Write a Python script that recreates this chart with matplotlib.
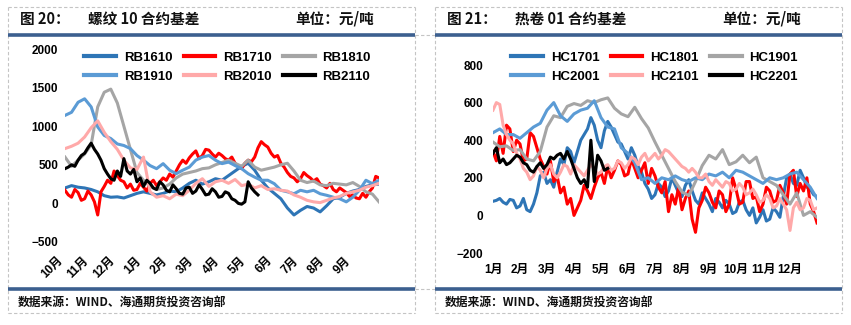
import numpy as np
import matplotlib
matplotlib.use("Agg")
import matplotlib.pyplot as plt
from matplotlib.lines import Line2D

# ---------------- data (basis, 元/吨) ----------------
rb_months = ["10月", "11月", "12月", "1月", "2月", "3月", "4月", "5月", "6月", "7月", "8月", "9月"]
hc_months = ["1月", "2月", "3月", "4月", "5月", "6月", "7月", "8月", "9月", "10月", "11月", "12月"]

# quarter-month samples
rb1610 = [200, 230, 210, 200, 180, 150, 100, 80, 85, 70, 100, 130, 150, 130, 110, 130,
          160, 150, 200, 260, 300, 250, 280, 320, 300, 360, 420, 480, 520, 430, 300, 200,
          130, 60, -60, -150, -90, -40, -60, -110, -30, 60, 80, 130, 160, 180, 220, 240, 250]
rb1810 = [600, 480, 560, 640, 760, 1250, 1440, 1480, 1300, 1000, 700, 400, 300, 220, 180, 200,
          250, 330, 380, 400, 420, 450, 460, 500, 530, 560, 520, 480, 560, 470, 430, 450,
          470, 500, 520, 420, 300, 270, 290, 240, 230, 260, 250, 240, 270, 220, 150, 120, 20]
rb1910 = [1140, 1180, 1310, 1355, 1250, 990, 880, 840, 770, 750, 710, 620, 560, 490, 450, 515,
          430, 385, 430, 470, 560, 600, 620, 560, 515, 535, 490, 450, 385, 340, 300, 300,
          255, 170, 150, 125, 170, 150, 170, 125, 105, 80, 60, 20, 80, 170, 300, 255, 300]
rb2010 = [710, 740, 780, 860, 980, 1070, 920, 800, 700, 560, 460, 440, 600, 150, 80, 100,
          60, 120, 100, 170, 260, 320, 220, 280, 300, 260, 310, 230, 250, 200, 230, 180,
          190, 170, 160, 110, 80, 40, 20, 10, 40, 70, 90, 130, 150, 170, 210, 230, 260]
# eighth-month samples
rb1710 = [170, 110, 80, 180, 140, 40, 60, 160, 110, 20, -150, 150, 220, 300, 260, 420,
          360, 300, 280, 200, 250, 170, 180, 260, 210, 160, 260, 300, 230, 280, 330, 300,
          380, 340, 420, 500, 560, 520, 590, 640, 680, 580, 620, 700, 690, 640, 600, 650,
          620, 580, 560, 600, 520, 480, 450, 520, 560, 540, 600, 720, 800, 760, 730, 650,
          600, 620, 520, 470, 400, 350, 330, 280, 320, 400, 360, 330, 290, 320, 250, 230,
          200, 260, 180, 150, 200, 170, 140, 90, 110, 70, 60, 130, 80, 150, 200, 350, 330]
rb2110 = [450, 470, 500, 480, 560, 620, 650, 720, 780, 700, 640, 560, 450, 380, 320, 300,
          420, 350, 580, 420, 380, 440, 280, 330, 220, 300, 260, 200, 180, 280, 240, 170,
          150, 240, 190, 130, 120, 200, 210, 130, 160, 240, 180, 110, 120, 190, 150, 80,
          90, 150, 130, 60, 40, 0, -10, 20, 280, 200, 150, 110]

hc1901 = [390, 365, 370, 345, 350, 300, 290, 340, 470, 530, 520, 580, 595, 585, 610, 600,
          615, 625, 570, 540, 525, 575, 515, 465, 390, 320, 250, 180, 125, 105, 180, 265,
          320, 300, 350, 270, 285, 320, 280, 310, 200, 180, 160, 110, 60, 120, 0, 20, -10]
hc2001 = [440, 460, 430, 430, 410, 440, 470, 490, 560, 600, 530, 500, 540, 560, 570, 610,
          520, 470, 460, 360, 330, 280, 190, 200, 170, 200, 190, 210, 190, 180, 200, 190,
          220, 210, 230, 200, 240, 230, 210, 190, 170, 200, 190, 200, 220, 230, 190, 150, 90]
hc1701 = [75, 80, 90, 70, 60, 85, 80, 40, 50, 90, 30, 20, 60, 120, 210, 230,
          170, 190, 150, 230, 300, 270, 360, 340, 280, 340, 400, 430, 460, 520, 480, 400,
          360, 450, 500, 470, 430, 390, 380, 340, 300, 360, 320, 260, 230, 170, 140, 90,
          110, 170, 150, 100, 130, 200, 160, 120, 100, 160, 190, 130, 80, 60, 120, 90,
          60, 20, 90, 70, 40, 80, 60, 10, 20, 70, 80, 30, 0, 40, -40, -10,
          30, -30, -20, 40, 20, -10, 100, 200, 220, 170, 160, 240, 200, 150, 140, 110, 100]
hc1801 = [340, 290, 420, 330, 480, 460, 340, 400, 380, 290, 300, 440, 420, 360, 300, 260,
          220, 290, 180, 210, 120, 150, 60, 90, 0, 40, 80, 160, 130, 90, 150, 200,
          230, 170, 260, 200, 240, 290, 270, 210, 220, 300, 250, 200, 240, 280, 170, 250,
          210, 150, 120, 180, 20, 110, 60, 150, 30, 90, 130, -20, -90, 40, 80, 150,
          120, 70, 40, 130, 110, 20, 60, 200, 140, 60, 70, 180, 180, 90, 100, 20,
          60, 150, 130, 70, 80, 160, 120, 60, 220, 240, 100, 170, 130, 200, 60, 20, -40]
hc2101 = [560, 600, 590, 480, 430, 400, 380, 330, 300, 250, 230, 190, 210, 260, 240, 200,
          250, 270, 220, 200, 230, 270, 260, 220, 270, 250, 230, 210, 240, 270, 250, 220,
          230, 260, 270, 240, 250, 290, 280, 250, 270, 310, 300, 270, 310, 330, 290, 310,
          330, 300, 320, 350, 340, 320, 300, 280, 260, 250, 230, 250, 230, 200, 200, 220,
          180, 160, 190, 170, 150, 180, 170, 130, 140, 170, 150, 110, 120, 140, 110, 70,
          80, 110, 90, 40, 50, 90, 60, 30, -80, 40, 70, 30, 40, 90, 80, 30, 40]
hc2201 = [330, 360, 280, 300, 270, 280, 300, 320, 310, 280, 270, 240, 230, 260, 280, 250,
          270, 310, 300, 320, 330, 300, 340, 300, 250, 200, 170, 190, 150, 400, 180, 320,
          290, 240, 250]

rb_names = ["RB1610", "RB1710", "RB1810", "RB1910", "RB2010", "RB2110"]
hc_names = ["HC1701", "HC1801", "HC1901", "HC2001", "HC2101", "HC2201"]
colors = ["#2E75B6", "#FF0000", "#A5A5A5", "#5B9BD5", "#FFA9A9", "#000000"]

rb_series = [rb1610, rb1710, rb1810, rb1910, rb2010, rb2110]
rb_steps = [0.25, 0.125, 0.25, 0.25, 0.25, 0.125]
hc_series = [hc1701, hc1801, hc1901, hc2001, hc2101, hc2201]
hc_steps = [0.125, 0.125, 0.25, 0.25, 0.125, 0.125]

# ---------------- figure ----------------
W, H = 851, 325
fig = plt.figure(figsize=(W / 100, H / 100), dpi=100)
fig.patch.set_facecolor("white")

def fx(px):
    return px / W

def fy(py):
    return 1 - py / H

NUM_FONT = ["Liberation Sans", "Noto Sans CJK SC"]
CJK_FONT = ["Noto Sans CJK SC", "DejaVu Sans"]
BAR = "#3C5F8F"
GRID = "#C4C4C4"

def hline(x0, x1, y, **kw):
    fig.add_artist(Line2D([fx(x0), fx(x1)], [fy(y), fy(y)], transform=fig.transFigure, **kw))

def vline(x, y0, y1, **kw):
    fig.add_artist(Line2D([fx(x), fx(x)], [fy(y0), fy(y1)], transform=fig.transFigure, **kw))

dash = dict(color=GRID, lw=0.8, ls=(0, (3, 2)))
# dashed cell borders around both panels
for (l, r) in [(8, 415), (435, 842)]:
    hline(l, r, 7, **dash)
    hline(l, r, 313, **dash)
    vline(l, 7, 313, **dash)
    vline(r, 7, 313, **dash)
hline(415, 435, 35, **dash)
hline(415, 435, 289, **dash)

# heavy rules under the titles and above the source lines
for (l, r) in [(8, 415), (435, 842)]:
    hline(l, r, 35, color=BAR, lw=2.6, solid_capstyle="butt")
    hline(l, r, 289, color=BAR, lw=2.6, solid_capstyle="butt")

tkw = dict(family=CJK_FONT, fontsize=10.5, fontweight="bold", va="center", ha="left", color="#111111")
fig.text(fx(20), fy(19), "图 20：", **tkw)
fig.text(fx(88), fy(19), "螺纹 10 合约基差", **tkw)
fig.text(fx(295), fy(19), "单位：元/吨", **tkw)
fig.text(fx(447), fy(19), "图 21：", **tkw)
fig.text(fx(515), fy(19), "热卷 01 合约基差", **tkw)
fig.text(fx(722), fy(19), "单位：元/吨", **tkw)

skw = dict(family=CJK_FONT, fontsize=8.5, fontweight="bold", va="center", ha="left", color="#111111")
fig.text(fx(18), fy(302), "数据来源：WIND、海通期货投资咨询部", **skw)
fig.text(fx(445), fy(302), "数据来源：WIND、海通期货投资咨询部", **skw)

# ---------------- left: rebar ----------------
ax1 = fig.add_axes([fx(65), fy(242), fx(379) - fx(65), fy(49) - fy(242)])
for name, vals, step, c in zip(rb_names, rb_series, rb_steps, colors):
    xs = np.arange(len(vals)) * step
    ax1.plot(xs, vals, color=c, lw=2.2, label=name, solid_joinstyle="round")
ax1.set_xlim(0, 12)
ax1.set_ylim(-500, 2000)
ax1.set_yticks([-500, 0, 500, 1000, 1500, 2000])
ax1.set_xticks(np.arange(len(rb_months)))
ax1.set_xticklabels(rb_months, rotation=45, ha="right", va="top")
ax1.tick_params(axis="x", length=0, pad=9)
ax1.tick_params(axis="y", length=0, pad=5)

# ---------------- right: hot-rolled coil ----------------
ax2 = fig.add_axes([fx(493), fy(253), fx(817) - fx(493), fy(65) - fy(253)])
for name, vals, step, c in zip(hc_names, hc_series, hc_steps, colors):
    xs = np.arange(len(vals)) * step
    ax2.plot(xs, vals, color=c, lw=2.2, label=name, solid_joinstyle="round")
ax2.set_xlim(0, 12)
ax2.set_ylim(-200, 800)
ax2.set_yticks([-200, 0, 200, 400, 600, 800])
ax2.set_xticks(np.arange(len(hc_months)))
ax2.set_xticklabels(hc_months)
ax2.tick_params(axis="x", length=0, pad=8)
ax2.tick_params(axis="y", length=0, pad=7)

for ax in (ax1, ax2):
    for s in ax.spines.values():
        s.set_visible(False)
    ax.set_facecolor("none")
    for lab in ax.get_xticklabels() + ax.get_yticklabels():
        lab.set_family(NUM_FONT)
        lab.set_fontweight("bold")
        lab.set_fontsize(8.5)

leg_kw = dict(ncol=3, frameon=False, handlelength=2.4, handletextpad=0.6,
              columnspacing=0.85, labelspacing=0.55, borderaxespad=0,
              prop=dict(family=NUM_FONT, weight="bold", size=9.5))
order = [0, 3, 1, 4, 2, 5]  # fill the legend row by row
for ax, x0 in ((ax1, 79), (ax2, 506)):
    hs, ls = ax.get_legend_handles_labels()
    leg = fig.legend([hs[i] for i in order], [ls[i] for i in order], loc="upper left",
                     bbox_to_anchor=(fx(x0), fy(46)), **leg_kw)
    for h in leg.legend_handles:
        h.set_linewidth(3)

fig.savefig("out.png", dpi=100, facecolor="white")
